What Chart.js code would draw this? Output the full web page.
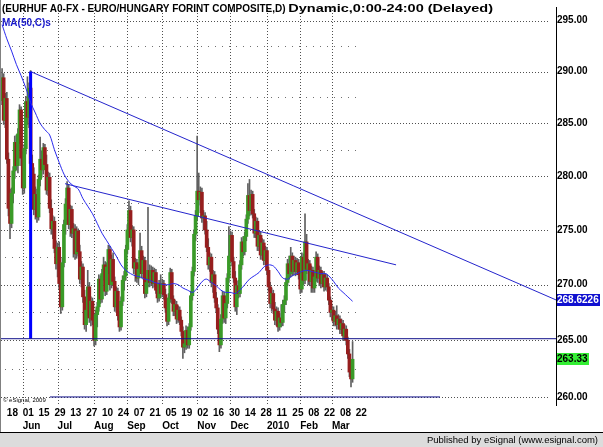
<!DOCTYPE html>
<html><head><meta charset="utf-8">
<script src="https://cdn.jsdelivr.net/npm/chart.js@4.4.1/dist/chart.umd.min.js"></script>
<style>html,body{margin:0;padding:0;background:#fff;}canvas{display:block;}</style>
</head><body>
<canvas id="c" width="603" height="447"></canvas>
<script>
// trading-day index of first candle (index 0 = Mon 18 May 2009)
const firstBarIndex = -3;

const opens = [
287.2,289.4,285.3,287.4,281.6,277.0,275.6,278.4,280.5,283.2,
281.0,284.0,286.3,281.7,278.9,282.6,287.1,285.6,288.4,281.2,
280.2,276.9,278.3,276.2,279.7,281.6,280.6,282.7,281.1,278.7,
279.9,277.0,275.1,275.8,273.3,271.9,273.4,270.1,268.0,272.0,
275.5,277.4,278.9,275.5,276.9,274.7,275.1,272.8,274.9,273.0,
270.5,271.6,268.9,266.4,267.7,269.8,267.0,268.5,266.8,265.0,
267.3,268.0,270.5,268.7,271.0,271.8,269.4,271.6,273.2,270.0,
272.3,270.3,268.0,269.4,267.2,266.2,268.5,270.4,270.8,273.2,
275.0,276.8,274.3,275.0,271.5,272.0,270.6,271.4,273.1,271.0,
272.2,269.2,270.2,271.3,270.2,271.3,270.1,271.1,269.5,268.8,
270.1,269.2,270.1,269.1,267.9,266.7,268.8,271.1,268.7,267.6,
268.2,266.9,267.7,266.8,265.8,264.4,264.7,265.9,264.6,266.2,
269.0,271.2,274.6,276.3,278.6,277.8,278.5,276.1,276.3,275.0,
273.4,271.8,272.5,270.2,270.9,268.8,267.9,266.0,264.6,266.9,
269.0,267.0,268.3,270.6,272.6,274.5,272.1,270.6,268.0,269.9,
269.2,271.8,273.9,273.0,274.4,276.0,278.2,276.8,278.3,276.5,
274.7,275.8,273.5,274.5,272.7,273.8,272.2,273.1,271.3,269.8,
268.3,269.2,267.8,266.8,267.6,266.2,267.0,266.6,268.2,268.6,
270.2,271.9,271.0,272.6,271.2,272.2,271.2,272.0,270.9,269.6,
272.5,270.4,273.9,271.4,271.9,270.3,271.3,269.7,270.7,272.5,
270.6,271.3,270.1,270.9,269.8,270.6,269.8,268.6,267.5,267.7,
266.7,267.2,266.4,266.9,266.0,266.5,265.4,266.0,265.0,263.8,
262.2,261.6];

const highs = [
290.3,289.8,287.9,288.0,282.2,278.8,278.9,280.9,283.8,283.9,
284.5,286.8,286.6,282.3,283.0,287.6,289.5,288.9,290.1,282.0,
280.8,279.0,278.8,280.1,283.7,282.4,283.1,283.0,282.0,280.4,
280.3,277.8,276.3,276.2,274.0,273.8,273.9,270.6,272.4,275.9,
277.9,279.5,279.2,277.3,277.2,275.6,275.5,275.3,275.1,273.6,
272.1,271.9,269.5,268.1,271.3,270.2,268.9,268.8,267.3,267.7,
268.4,270.9,270.8,271.4,272.5,272.1,272.0,273.6,273.5,272.7,
272.9,270.7,269.8,269.7,267.6,268.9,270.8,271.2,273.6,275.5,
277.7,277.2,275.4,275.3,272.4,272.3,271.8,274.7,273.5,272.6,
272.5,270.6,277.1,271.8,271.7,271.6,271.5,271.4,270.0,270.4,
270.9,270.5,270.4,269.6,268.3,269.2,271.5,271.4,269.0,268.6,
268.5,268.1,268.0,267.1,266.2,265.0,266.3,266.2,266.5,269.4,
271.6,275.0,276.8,283.8,280.3,279.0,278.9,276.8,276.6,275.8,
274.2,272.9,272.8,271.3,271.2,269.3,268.2,266.4,267.3,269.4,
269.3,268.7,271.0,275.3,274.9,274.8,272.5,271.2,270.3,270.4,
272.2,274.3,274.4,274.8,276.4,279.3,279.7,278.7,278.6,276.9,
276.2,276.1,274.9,274.8,274.2,274.1,273.5,273.4,271.6,270.2,
269.7,269.5,268.4,268.0,267.9,267.4,268.2,268.6,269.0,270.6,
272.3,272.6,273.4,272.9,272.6,272.5,272.4,272.3,271.2,272.9,
272.8,276.5,274.6,272.3,272.2,271.7,271.6,271.1,273.0,272.8,
271.7,271.6,271.2,271.2,271.0,270.9,270.1,268.9,268.1,268.0,
267.6,268.1,267.3,267.2,266.9,266.8,266.4,266.3,265.3,264.2,
262.6,264.9];

const lows = [
286.8,284.9,284.6,281.2,276.3,274.2,275.2,277.5,279.8,280.6,
280.3,283.1,281.0,278.3,278.4,282.1,284.9,284.6,280.6,279.4,
276.4,276.0,275.7,275.9,279.1,279.9,280.2,280.7,278.3,278.2,
276.6,274.6,274.2,272.9,271.4,270.7,269.6,267.4,267.7,271.6,
274.6,276.6,275.1,274.4,274.3,272.5,272.3,272.4,272.6,270.1,
269.8,268.4,266.0,265.8,267.2,266.6,266.3,266.4,264.5,264.6,
266.2,267.6,268.3,268.4,270.4,269.0,269.1,271.0,269.5,269.7,
269.9,267.6,267.5,266.8,265.8,265.9,268.1,269.5,270.4,272.8,
274.4,273.9,273.5,271.0,270.3,270.2,270.0,271.0,270.6,270.5,
268.8,268.9,269.8,269.8,269.9,269.7,269.8,269.2,268.4,268.5,
268.8,268.9,268.7,267.5,266.3,266.4,268.4,268.3,267.2,267.2,
266.5,266.6,266.4,265.4,263.4,263.9,264.2,264.3,264.3,265.9,
268.6,270.8,274.0,275.9,277.3,276.6,275.7,275.0,274.6,273.0,
271.4,271.2,269.8,269.3,268.4,267.5,265.6,264.0,264.3,266.5,
266.6,266.5,267.9,270.2,272.2,271.7,270.2,267.6,267.3,268.8,
268.9,271.4,272.6,272.7,274.0,275.6,276.3,276.4,276.1,274.3,
274.3,273.1,273.1,272.3,272.3,271.8,271.8,270.9,269.4,267.9,
267.6,267.4,266.4,266.3,265.8,265.9,266.2,266.3,267.5,268.2,
269.9,270.5,270.7,270.8,270.9,270.8,270.9,270.5,269.2,269.3,
270.0,270.1,271.0,270.0,269.9,269.3,269.3,269.3,270.3,270.2,
269.9,269.7,269.8,269.4,269.5,269.4,268.2,267.1,266.8,266.3,
266.3,266.0,266.0,265.6,265.6,265.0,265.0,264.6,263.4,261.8,
260.9,261.3];

const closes = [
289.4,285.3,287.4,281.6,277.0,275.6,278.4,280.5,283.2,281.0,
284.0,286.3,281.7,278.9,282.6,287.1,285.6,288.4,281.2,280.2,
276.9,278.3,276.2,279.7,281.6,280.6,282.7,281.1,278.7,279.9,
277.0,275.1,275.8,273.3,271.9,273.4,270.1,268.0,272.0,275.5,
277.4,278.9,275.5,276.9,274.7,275.1,272.8,274.9,273.0,270.5,
271.6,268.9,266.4,267.7,269.8,267.0,268.5,266.8,265.0,267.3,
268.0,270.5,268.7,271.0,271.8,269.4,271.6,273.2,270.0,272.3,
270.3,268.0,269.4,267.2,266.2,268.5,270.4,270.8,273.2,275.0,
276.8,274.3,275.0,271.5,272.0,270.6,271.4,273.1,271.0,272.2,
269.2,270.2,271.3,270.2,271.3,270.1,271.1,269.5,268.8,270.1,
269.2,270.1,269.1,267.9,266.7,268.8,271.1,268.7,267.6,268.2,
266.9,267.7,266.8,265.8,264.4,264.7,265.9,264.6,266.2,269.0,
271.2,274.6,276.3,278.6,277.8,278.5,276.1,276.3,275.0,273.4,
271.8,272.5,270.2,270.9,268.8,267.9,266.0,264.6,266.9,269.0,
267.0,268.3,270.6,272.6,274.5,272.1,270.6,268.0,269.9,269.2,
271.8,273.9,273.0,274.4,276.0,278.2,276.8,278.3,276.5,274.7,
275.8,273.5,274.5,272.7,273.8,272.2,273.1,271.3,269.8,268.3,
269.2,267.8,266.8,267.6,266.2,267.0,266.6,268.2,268.6,270.2,
271.9,271.0,272.6,271.2,272.2,271.2,272.0,270.9,269.6,272.5,
270.4,273.9,271.4,271.9,270.3,271.3,269.7,270.7,272.5,270.6,
271.3,270.1,270.9,269.8,270.6,269.8,268.6,267.5,267.7,266.7,
267.2,266.4,266.9,266.0,266.5,265.4,266.0,265.0,263.8,262.2,
261.6,263.33];

// MA(50,C)
const maIdx = [-3,0,3,6,9,12,15,18,21,24,27,30,33,36,39,42,45,48,51,54,57,60,63,66,69,72,75,78,81,84,87,90,93,96,99,102,105,108,111,114,117,119,121,124,126,129,132,135,138,141,144,147,150,153,156,159,162,165,168,171,174,177,180,183,186,189,192,195,198,201,203,206,209,212,215,218];
const maVal = [294.6,293.2,292.0,290.7,289.6,288.4,287.0,286.0,285.0,284.4,283.9,282.5,281.3,280.2,279.5,279.1,278.8,277.9,277.2,276.5,275.6,274.7,274.0,273.3,272.6,271.8,271.3,271.0,270.8,270.7,270.5,270.4,270.2,270.1,270.0,270.0,270.1,270.0,269.7,269.5,269.3,269.5,269.9,270.4,270.5,270.2,269.9,269.5,269.3,269.3,269.2,269.5,270.0,270.5,270.8,271.1,271.6,271.8,271.7,271.2,270.6,270.5,270.8,271.0,271.2,271.3,271.2,271.1,271.0,271.0,270.8,270.3,269.7,269.3,268.9,268.5];

// drawn studies (index, price)
const trendA = [[15.0, 290.0], [346.25, 268.6226]];
const trendB = [[36.7, 279.3], [245.4, 271.8]];
const supportLine = [[-3.68, 265.15], [346.25, 265.15]];
const bottomLine = [[27.2, 260.02], [273.1, 260.02]];
const markerLine = [[15.0, 290.0], [15.0, 265.15]];
const lastTrendValue = 268.6226;
const lastPrice = 263.33;

const dayTickIdx = [0,10,20,30,40,50,60,70,80,90,100,110,120,130,140,150,160,170,180,190,200,210,220];
const dayTickLabels = ['18','01','15','29','13','27','10','24','07','21','05','19','02','16','30','14','28','11','25','08','22','08','22'];
const monthTickIdx = [10,32,55,76,98,120,141,164,185,205];
const monthTickLabels = ['Jun','Jul','Aug','Sep','Oct','Nov','Dec','2010','Feb','Mar'];
const priceTicks = [260,265,270,275,280,285,290,295];
const minorPriceTicks = [262.5,267.5,272.5,277.5,282.5,287.5,292.5];

const titleMain = '(EURHUF A0-FX - EURO/HUNGARY FORINT COMPOSITE,D)';
const titleTail = 'Dynamic,0:00-24:00 (Delayed)';

const xMin = -3.68, xMax = 346.25, yMin = 259.32, yMax = 296.35;
const FONT = '"Liberation Sans", Arial, sans-serif';

const idx = closes.map((_, k) => firstBarIndex + k);
const pts = arr => arr.map(p => ({x: p[0], y: p[1]}));

const deco = {
  id: 'deco',
  beforeDraw(chart) {
    const ctx = chart.ctx;
    ctx.save();
    ctx.fillStyle = '#ffffff'; ctx.fillRect(0, 0, chart.width, chart.height);
    ctx.fillStyle = '#dcdcdc'; ctx.fillRect(0, 433, chart.width, chart.height - 433);
    ctx.fillStyle = '#000000'; ctx.fillRect(0, 432, chart.width, 1);
    ctx.fillStyle = '#808080'; ctx.fillRect(0, 0, 1, 432);
    ctx.restore();
  },
  beforeDatasetsDraw(chart) {
    const {ctx, chartArea: ca} = chart;
    const x = chart.scales.x, y = chart.scales.y;
    ctx.save();
    ctx.beginPath(); ctx.rect(ca.left, ca.top, ca.right - ca.left, ca.bottom - ca.top); ctx.clip();
    ctx.lineWidth = 1; ctx.strokeStyle = '#505050';
    ctx.setLineDash([1, 2]);
    priceTicks.forEach(v => {
      const py = Math.round(y.getPixelForValue(v)) + 0.5;
      ctx.beginPath(); ctx.moveTo(ca.left, py); ctx.lineTo(ca.right - 8, py); ctx.stroke();
    });
    monthTickIdx.forEach(v => {
      const px = Math.round(x.getPixelForValue(v)) + 0.5;
      ctx.beginPath(); ctx.moveTo(px, ca.top); ctx.lineTo(px, ca.bottom); ctx.stroke();
    });
    ctx.setLineDash([1, 6]);
    ctx.strokeStyle = '#707070';
    const xEnd = x.getPixelForValue(idx[idx.length - 1]) + 5;
    minorPriceTicks.forEach(v => {
      const py = Math.round(y.getPixelForValue(v)) + 0.5;
      ctx.beginPath(); ctx.moveTo(ca.left + 4, py); ctx.lineTo(xEnd, py); ctx.stroke();
    });
    ctx.restore();
  },
  afterDraw(chart) {
    const {ctx, chartArea: ca} = chart;
    const y = chart.scales.y;
    ctx.save();
    ctx.textBaseline = 'middle';
    ctx.textAlign = 'left';
    ctx.font = 'bold 10px ' + FONT;
    ctx.fillStyle = '#000';
    ctx.fillText(titleMain, 2, 9);
    const tailX = 2 + ctx.measureText(titleMain + ' ').width;
    const tailW = ctx.measureText(titleTail).width;
    ctx.save();
    ctx.translate(tailX, 0);
    ctx.scale((493 - tailX) / tailW, 1);
    ctx.fillText(titleTail, 0, 9);
    ctx.restore();
    ctx.fillStyle = '#1a1acc';
    ctx.fillText('MA(50,C)s', 2, 23);
    ctx.font = '6px ' + FONT;
    ctx.fillStyle = '#000';
    ctx.fillText('\u00a9 eSignal, 2009', 3, 400);
    // value boxes on the price axis
    ctx.font = 'bold 10px ' + FONT;
    let yv = Math.round(y.getPixelForValue(lastTrendValue));
    ctx.fillStyle = '#1010d0'; ctx.fillRect(ca.right + 1, yv - 6, 43, 12);
    ctx.fillStyle = '#fff'; ctx.fillText(lastTrendValue.toFixed(4), ca.right + 1, yv + 0.5);
    yv = Math.round(y.getPixelForValue(lastPrice));
    ctx.fillStyle = '#33ee33'; ctx.fillRect(ca.right + 1, yv - 6, 32, 12);
    ctx.fillStyle = '#000'; ctx.fillText(lastPrice.toFixed(2), ca.right + 1, yv + 0.5);
    // footer
    ctx.font = '9.5px ' + FONT;
    ctx.textAlign = 'right';
    ctx.fillStyle = '#000';
    ctx.fillText('Published by eSignal (www.esignal.com)', 598, 440);
    ctx.restore();
  }
};

const lineDs = (data, color, width, order) => ({
  type: 'line', data: pts(data), borderColor: color, borderWidth: width,
  pointRadius: 0, tension: 0, fill: false, xAxisID: 'x', yAxisID: 'y', order: order
});

new Chart(document.getElementById('c'), {
  type: 'bar',
  data: {
    datasets: [
      {
        type: 'line', data: maIdx.map((v, k) => ({x: v, y: maVal[k]})),
        borderColor: '#2a2aee', borderWidth: 1, pointRadius: 0, tension: 0.3, fill: false,
        xAxisID: 'x', yAxisID: 'y', order: 0
      },
      lineDs(trendA, '#2424cc', 1, 0),
      lineDs(trendB, '#2424cc', 1, 0),
      lineDs(supportLine, '#10108a', 1, 0),
      lineDs(bottomLine, '#10108a', 1, 0),
      lineDs(markerLine, '#0000ff', 3, 0),
      {
        type: 'bar', xAxisID: 'x', yAxisID: 'y', order: 1, grouped: false,
        barThickness: 3, minBarLength: 1, borderWidth: 0,
        data: idx.map((v, k) => ({x: v, y: [Math.min(opens[k], closes[k]), Math.max(opens[k], closes[k])]})),
        backgroundColor: idx.map((v, k) => closes[k] >= opens[k] ? '#3a9a28' : '#961e1e')
      },
      {
        type: 'bar', xAxisID: 'x', yAxisID: 'y', order: 2, grouped: false,
        barThickness: 1, borderWidth: 0,
        data: idx.map((v, k) => ({x: v, y: [lows[k], highs[k]]})),
        backgroundColor: '#606060'
      }
    ]
  },
  options: {
    responsive: false, animation: false, events: [], devicePixelRatio: 1,
    layout: {padding: {left: 1, top: 0, right: 0, bottom: 15}},
    plugins: {legend: {display: false}, tooltip: {enabled: false}},
    scales: {
      x: {
        type: 'linear', position: 'bottom', min: xMin, max: xMax, bounds: 'data', offset: false, weight: 0,
        grid: {display: false, drawTicks: false}, border: {display: false},
        afterBuildTicks: s => { s.ticks = dayTickIdx.map(v => ({value: v})); },
        afterFit: s => { s.height = 13; },
        ticks: {autoSkip: false, maxRotation: 0, minRotation: 0, align: 'start', padding: 2, color: '#000',
          font: {family: FONT, size: 10, weight: 'bold'}, callback: (v, i) => dayTickLabels[i]}
      },
      xm: {
        type: 'linear', axis: 'x', position: 'bottom', min: xMin, max: xMax, bounds: 'data', offset: false, weight: 1,
        grid: {display: false, drawTicks: false}, border: {display: false},
        afterBuildTicks: s => { s.ticks = monthTickIdx.map(v => ({value: v})); },
        afterFit: s => { s.height = 14; },
        ticks: {autoSkip: false, maxRotation: 0, minRotation: 0, align: 'start', padding: 2, color: '#000',
          font: {family: FONT, size: 10, weight: 'bold'}, callback: (v, i) => monthTickLabels[i]}
      },
      y: {
        type: 'logarithmic', position: 'right', min: yMin, max: yMax, bounds: 'data', beginAtZero: false,
        grid: {display: false, drawTicks: false}, border: {display: true, color: '#000', width: 1},
        afterBuildTicks: s => { s.ticks = priceTicks.map(v => ({value: v})); },
        afterFit: s => { s.width = 47; },
        ticks: {autoSkip: false, padding: 1, color: '#000',
          font: {family: FONT, size: 10, weight: 'bold'}, callback: v => Number(v).toFixed(2)}
      }
    }
  },
  plugins: [deco]
});
</script>
</body></html>
